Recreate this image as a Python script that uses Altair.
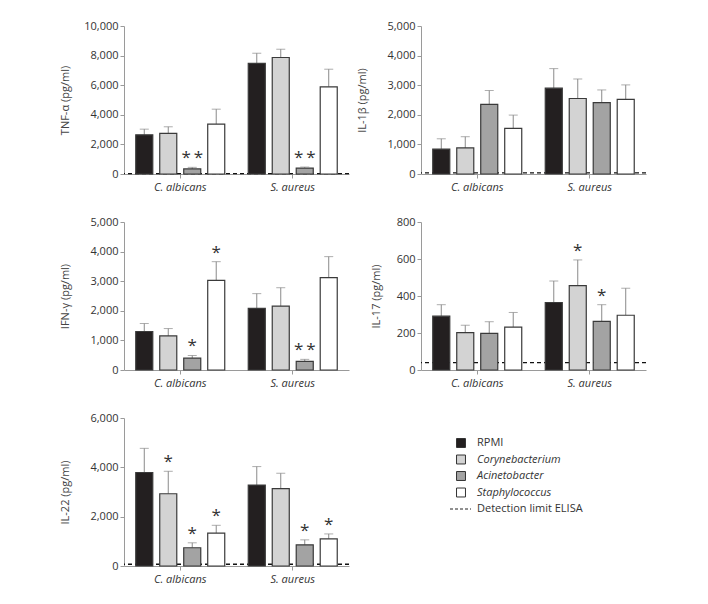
import altair as alt
import pandas as pd

groups = ["C. albicans", "S. aureus"]
conditions = ["RPMI", "Corynebacterium", "Acinetobacter", "Staphylococcus"]
colors = ["#231f20", "#d3d3d3", "#a3a3a3", "#ffffff"]
legend_items = conditions + ["Detection limit ELISA"]

cytokines = ["TNF-α (pg/ml)", "IL-1β (pg/ml)", "IFN-γ (pg/ml)", "IL-17 (pg/ml)", "IL-22 (pg/ml)"]
y_max = [10000, 5000, 5000, 800, 6000]
y_step = [2000, 1000, 1000, 200, 2000]
detection = [30, 40, None, 40, 70]

# values: C. albicans (RPMI, Cory, Acin, Staph), then S. aureus
tnf_mean = [2650, 2740, 340, 3370, 7480, 7870, 400, 5890]
tnf_err = [3030, 3190, 450, 4380, 8160, 8430, 470, 7080]
tnf_sig = ["", "", "*\u2009*", "", "", "", "*\u2009*", ""]

il1b_mean = [840, 880, 2350, 1540, 2900, 2550, 2410, 2520]
il1b_err = [1190, 1260, 2820, 1990, 3560, 3210, 2840, 3010]
il1b_sig = ["", "", "", "", "", "", "", ""]

ifng_mean = [1300, 1150, 400, 3030, 2080, 2160, 290, 3120]
ifng_err = [1570, 1400, 490, 3660, 2580, 2780, 360, 3830]
ifng_sig = ["", "", "*", "*", "", "", "*\u2009*", ""]

il17_mean = [291, 202, 198, 232, 365, 456, 263, 296]
il17_err = [353, 242, 261, 311, 481, 595, 353, 442]
il17_sig = ["", "", "", "", "", "*", "*", ""]

il22_mean = [3790, 2930, 740, 1330, 3280, 3140, 860, 1100]
il22_err = [4770, 3840, 940, 1650, 4030, 3760, 1060, 1300]
il22_sig = ["", "*", "*", "*", "", "", "*", "*"]

means = [tnf_mean, il1b_mean, ifng_mean, il17_mean, il22_mean]
errs = [tnf_err, il1b_err, ifng_err, il17_err, il22_err]
sigs = [tnf_sig, il1b_sig, ifng_sig, il17_sig, il22_sig]
title_x = [-54, -54, -54, -40, -54]

FONT = "Open Sans"
W, H = 225, 148
ERRC = "#8a8a8a"


def panel(i):
    df = pd.DataFrame({
        "group": [g for g in groups for _ in conditions],
        "cond": conditions * 2,
        "mean": means[i],
        "err": errs[i],
        "sig": sigs[i],
    })
    xsc = alt.Scale(domain=groups, paddingInner=0, paddingOuter=0)
    xax = alt.Axis(title=None, labelFontStyle="italic", labelAngle=0, tickSize=4,
                   labelPadding=3, labelFontSize=11)
    x = alt.X("group:N", scale=xsc, axis=xax)
    xo = alt.XOffset("cond:N", scale=alt.Scale(domain=conditions, paddingInner=0.29, paddingOuter=0.49))
    ysc = alt.Scale(domain=[0, y_max[i]], nice=False, zero=True)
    yax = alt.Axis(values=list(range(0, y_max[i] + 1, y_step[i])), format=",.0f", tickSize=4,
                   titleX=title_x[i], titleY=H / 2, titleFontWeight="normal", titleFontSize=11,
                   labelFontSize=11, grid=False)

    def Y(f):
        return alt.Y(f, scale=ysc, axis=yax, title=cytokines[i])

    base = alt.Chart(df)
    layers = []
    if detection[i] is not None:
        ddf = pd.DataFrame({"lim": [detection[i]]})
        layers.append(alt.Chart(ddf).mark_rule(color="#111", strokeDash=[4, 3], strokeWidth=1.3)
                      .encode(y=Y("lim:Q")))
    rule = base.mark_rule(color=ERRC, strokeWidth=1).encode(x=x, xOffset=xo, y=Y("mean:Q"), y2="err:Q")
    bars = base.mark_bar(stroke="#3a3a3a", strokeWidth=1.2).encode(
        x=x, xOffset=xo, y=Y("mean:Q"),
        color=alt.Color("cond:N", scale=alt.Scale(domain=conditions, range=colors), legend=None))
    cap = base.mark_tick(color=ERRC, size=9, thickness=1, orient="horizontal").encode(
        x=x, xOffset=xo, y=Y("err:Q"))
    stars = base.mark_text(baseline="middle", dy=-9, fontSize=17, font=FONT, color="#333").encode(
        x=x, xOffset=xo, y=Y("err:Q"), text="sig:N")
    layers += [rule, bars, cap, stars]
    return alt.layer(*layers).properties(width=W, height=H)


def legend_panel():
    df = pd.DataFrame({"item": legend_items})
    ysc = alt.Scale(type="point", domain=legend_items, range=[25, 91], padding=0)
    y = alt.Y("item:N", scale=ysc, axis=None)
    base = alt.Chart(df)
    sq = base.transform_filter(alt.FieldOneOfPredicate(field="item", oneOf=conditions)).mark_square(
        size=80, stroke="#333", strokeWidth=1, opacity=1).encode(
        x=alt.value(40), y=y,
        color=alt.Color("item:N", scale=alt.Scale(domain=conditions, range=colors), legend=None))
    t_norm = base.transform_filter(
        alt.FieldOneOfPredicate(field="item", oneOf=["RPMI", "Detection limit ELISA"])).mark_text(
        align="left", baseline="middle", fontSize=11, font=FONT, color="#333").encode(
        x=alt.value(56), y=y, text="item:N")
    t_it = base.transform_filter(
        alt.FieldOneOfPredicate(field="item", oneOf=conditions[1:])).mark_text(
        align="left", baseline="middle", fontSize=11, font=FONT, fontStyle="italic", color="#333").encode(
        x=alt.value(56), y=y, text="item:N")
    dash = base.transform_filter(alt.FieldEqualPredicate(field="item", equal="Detection limit ELISA")).mark_rule(
        color="#222", strokeDash=[3, 2], strokeWidth=1).encode(x=alt.value(29), x2=alt.value(50), y=y)
    return alt.layer(sq, t_norm, t_it, dash).properties(width=W, height=H)


charts = [panel(i) for i in range(5)] + [legend_panel()]
chart = alt.concat(*charts, columns=2, spacing={"row": 24, "column": 6}).properties(
    padding={"left": 51, "top": 12, "right": 5, "bottom": 5}
).configure_view(stroke=None).configure_axis(
    domainColor="#9a9a9a", tickColor="#9a9a9a", labelColor="#333", titleColor="#444",
    labelFont=FONT, titleFont=FONT
)

chart.save("out.html", embed_options={"renderer": "svg", "actions": False})
